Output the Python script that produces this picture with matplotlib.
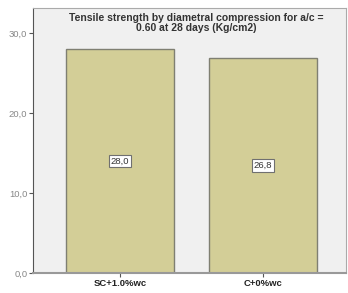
import matplotlib
matplotlib.use("Agg")
import matplotlib.pyplot as plt

plt.rcParams["font.family"] = ["Liberation Sans", "DejaVu Sans"]

categories = ["SC+1.0%wc", "C+0%wc"]
values = [28.0, 26.8]
yticks = [0, 10, 20, 30]
ytick_labels = ["0,0", "10,0", "20,0", "30,0"]
title = "Tensile strength by diametral compression for a/c =\n0.60 at 28 days (Kg/cm2)"

fig = plt.figure(figsize=(3.48, 2.93), dpi=100)
ax = fig.add_axes([33/348, 1-273/293, (346-33)/348, (273-8)/293])
ax.set_facecolor("#F0F0F0")
x = list(range(len(categories)))
ax.bar(x, values, width=0.755, color="#D3CE97", edgecolor="#7F7F72", linewidth=1.0, zorder=2)
for xi, v in zip(x, values):
    ax.text(xi, v/2, f"{v:.1f}".replace(".", ","), ha="center", va="center", fontsize=6.8,
            color="#333333", zorder=3,
            bbox=dict(boxstyle="square,pad=0.2", fc="white", ec="#707070", lw=0.8))
ax.set_xlim(-0.608, 1.58)
ax.set_ylim(0, 33.1)
ax.set_yticks(yticks)
ax.set_yticklabels(ytick_labels, fontsize=6.8, color="#888888")
ax.set_xticks(x)
ax.set_xticklabels(categories, fontsize=6.8, fontweight="bold", color="#222222")
ax.tick_params(axis="both", length=3, color="#555555", width=0.8, pad=1)
ax.spines["left"].set_color("#555555")
ax.spines["bottom"].set_color("#999999")
ax.spines["bottom"].set_linewidth(1.5)
ax.spines["top"].set_color("#AAAAAA")
ax.spines["right"].set_color("#AAAAAA")
ax.text(0.52, 0.98, title, transform=ax.transAxes, ha="center", va="top",
        fontsize=7.5, fontweight="bold", color="#333333", linespacing=1.0)
fig.savefig("out.png", dpi=100)
